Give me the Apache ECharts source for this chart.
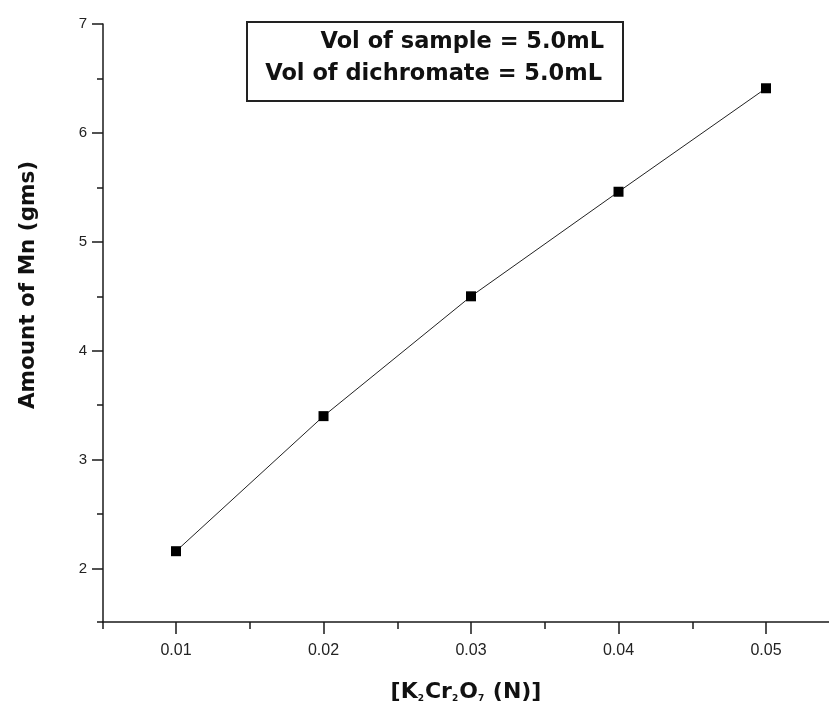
<!DOCTYPE html>
<html>
<head>
<meta charset="utf-8">
<script src="https://cdn.jsdelivr.net/npm/echarts@6/dist/echarts.min.js"></script>
<style>
html,body{margin:0;padding:0;background:#fff;}
#chart{width:829px;height:709px;}
</style>
</head>
<body>
<div id="chart"></div>
<script>
// Data
const concentrations = [0.01, 0.02, 0.03, 0.04, 0.05];
const amountMn = [2.16, 3.40, 4.50, 5.46, 6.41];
const xMajorTicks = [0.01, 0.02, 0.03, 0.04, 0.05];
const xMinorTicks = [0.00505, 0.015, 0.025, 0.035, 0.045];
const yMajorTicks = [2, 3, 4, 5, 6, 7];
const yMinorTicks = [1.51, 2.5, 3.5, 4.5, 5.5, 6.5];
const legendLines = ['Vol of sample = 5.0mL', 'Vol of dichromate = 5.0mL'];
const yTitle = 'Amount of Mn (gms)';

const points = concentrations.map((c, i) => [c, amountMn[i]]);
const axisColor = '#1a1a1a';
const xRange = {min: 0.00505, max: 0.05427};
const yRange = {min: 1.51, max: 7};
const titleFont = 'DejaVu Sans, Verdana, sans-serif';
const tickFont = 'Liberation Sans, Arial, sans-serif';

const chart = echarts.init(document.getElementById('chart'));
chart.setOption({
  animation: false,
  backgroundColor: '#fff',
  grid: {left: 103, right: 0, top: 24, bottom: 87, containLabel: false},
  xAxis: [{
    type: 'value', min: xRange.min, max: xRange.max,
    axisLine: {show: true, onZero: false, lineStyle: {color: axisColor, width: 1.5}},
    axisTick: {show: true, length: 12, customValues: xMajorTicks, lineStyle: {color: axisColor, width: 1.5}},
    axisLabel: {show: true, customValues: xMajorTicks, margin: 21, fontFamily: tickFont, fontSize: 16, color: '#222',
      formatter: v => v.toFixed(2)},
    splitLine: {show: false},
    name: '{b|[K}{s|2}{b|Cr}{s|2}{b|O}{s|7}{b| (N)]}',
    nameLocation: 'middle', nameGap: 59,
    nameTextStyle: {rich: {
      b: {fontFamily: titleFont, fontWeight: 'bold', fontSize: 22, color: '#111'},
      s: {fontFamily: titleFont, fontWeight: 'bold', fontSize: 9, color: '#111', verticalAlign: 'bottom', padding: [13, 1, 0, 0]}
    }}
  }, {
    type: 'value', min: xRange.min, max: xRange.max, position: 'bottom',
    axisLine: {show: false},
    axisTick: {show: true, length: 7, customValues: xMinorTicks, lineStyle: {color: axisColor, width: 1.5}},
    axisLabel: {show: false},
    splitLine: {show: false}
  }],
  yAxis: [{
    type: 'value', min: yRange.min, max: yRange.max,
    axisLine: {show: true, onZero: false, lineStyle: {color: axisColor, width: 1.5}},
    axisTick: {show: true, length: 11, customValues: yMajorTicks, lineStyle: {color: axisColor, width: 1.5}},
    axisLabel: {show: true, customValues: yMajorTicks, margin: 16, fontFamily: tickFont, fontSize: 15, color: '#222'},
    splitLine: {show: false}
  }, {
    type: 'value', min: yRange.min, max: yRange.max, position: 'left',
    axisLine: {show: false},
    axisTick: {show: true, length: 6, customValues: yMinorTicks, lineStyle: {color: axisColor, width: 1.5}},
    axisLabel: {show: false},
    splitLine: {show: false}
  }],
  graphic: [
    {type: 'rect', left: 246, top: 21, shape: {width: 376, height: 79},
      style: {fill: '#fff', stroke: '#222', lineWidth: 2}, z: 10},
    {type: 'text', right: 829 - 604, top: 31, z: 11,
      style: {text: legendLines[0], fontFamily: titleFont, fontWeight: 'bold', fontSize: 22.5, fill: '#111', textAlign: 'right'}},
    {type: 'text', right: 829 - 602, top: 63, z: 11,
      style: {text: legendLines[1], fontFamily: titleFont, fontWeight: 'bold', fontSize: 22.5, fill: '#111', textAlign: 'right'}},
    {type: 'text', x: 28, y: 285, rotation: Math.PI / 2, z: 11,
      style: {text: yTitle, fontFamily: titleFont, fontWeight: 'bold', fontSize: 21.5, fill: '#111', textAlign: 'center', textVerticalAlign: 'middle'}}
  ],
  series: [{
    type: 'line', xAxisIndex: 0, yAxisIndex: 0,
    data: points,
    symbol: 'rect', symbolSize: 10,
    itemStyle: {color: '#000'},
    lineStyle: {color: '#222', width: 1},
    z: 5
  }]
});
</script>
</body>
</html>
